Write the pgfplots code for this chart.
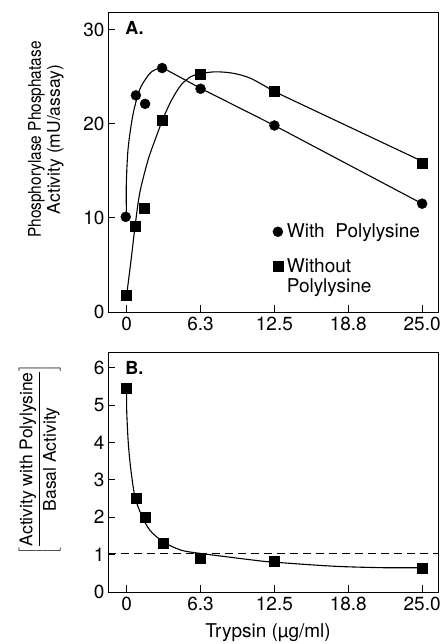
\documentclass[border=0pt]{standalone}
\usepackage{graphicx}
\usepackage{pgfplots}
\pgfplotsset{compat=1.18}
\usepackage{fontspec}
\setmainfont{TeX Gyre Heros}
\begin{document}
\begin{tikzpicture}
\useasboundingbox (-108bp,-332bp) rectangle (335bp,312bp);
\pgfplotsset{
  every axis/.append style={
    scale only axis, width=330bp,
    xmin=-1.58, xmax=26.34,
    xtick={0,6.25,12.5,18.75,25}, xticklabels={0,6.3,12.5,18.8,25.0},
    xtick pos=bottom, ytick pos=left,
    tick align=inside, major tick length=7bp,
    axis line style={line width=0.9bp},
    every tick/.style={line width=0.9bp, black},
    tick label style={font=\fontsize{19bp}{22bp}\selectfont},
    /pgf/number format/assume math mode=true,
    xticklabel style={yshift=-2bp},
  },
  mycurve/.style={black, line width=1.1bp, no marks},
}
% ---------------- Panel A ----------------
\begin{axis}[name=A, at={(0,0)}, anchor=south west, height=300bp,
  ymin=0, ymax=31.85, ytick={0,10,20,30},
  ylabel={\scalebox{0.88}[1]{Phosphorylase Phosphatase}\\Activity (mU/assay)},
  ylabel style={at={(axis description cs:-0.188,0.575)}, anchor=center, align=center,
    font=\fontsize{17.5bp}{19bp}\selectfont},
  legend style={at={(axis description cs:0.496,0.297)}, anchor=north west, draw=none, fill=none,
    font=\fontsize{19bp}{20bp}\selectfont, row sep=17bp, inner sep=0pt,
    nodes={inner sep=1bp}},
  legend cell align=left,
  legend image code/.code={\draw[mark repeat=2,mark phase=2,#1] plot coordinates {(0bp,0bp)(6bp,0bp)(12bp,0bp)};
    \path[draw=none,fill=none] (0bp,0bp) (14bp,0bp);},
]
% fitted curve, with polylysine
\addplot[mycurve, smooth, tension=0.5, forget plot] coordinates {
  (-0.02,10) (-0.03,13.6) (0.11,17.2) (0.4,20.0) (0.68,21.8) (1.1,23.6) (1.53,24.6) (2.1,25.5) (2.94,26.0)};
\addplot[mycurve, forget plot] coordinates {(2.94,26.0) (6.25,23.75) (12.5,19.8) (25,11.5)};
% fitted curve, without polylysine
\addplot[mycurve, smooth, tension=0.5, forget plot] coordinates {
  (0,1.8) (0.4,5.8) (0.7,9.0) (1.1,12.6) (1.8,16.1) (2.5,18.6) (3.1,20.6) (3.8,22.5) (4.6,24.1)
  (5.45,25.0) (6.25,25.3) (7.5,25.5) (9,25.35) (10.5,24.8) (12.5,23.4)};
\addplot[mycurve, forget plot] coordinates {(12.5,23.4) (25,16.0)};
% data
\addplot[only marks, mark=*, mark size=5bp, black] coordinates {
  (-0.08,10.1) (0.78,23.0) (1.56,22.1) (3.0,25.9) (6.25,23.7) (12.5,19.8) (25,11.5)};
\addlegendentry{With\ \ Polylysine}
\addplot[only marks, mark=square*, mark size=5bp, black] coordinates {
  (0,1.8) (0.7,9.1) (1.5,11.0) (3.0,20.4) (6.25,25.2) (12.5,23.4) (25,15.8)};
\addlegendentry{\begin{tabular}[t]{@{}l@{}}Without\\Polylysine\end{tabular}}
\node[anchor=west, font=\bfseries\fontsize{18bp}{20bp}\selectfont] at (axis description cs:0.042,0.947) {A.};
\end{axis}
% ---------------- Panel B ----------------
\begin{axis}[name=B, at={(0,-40bp)}, anchor=north west, height=240bp,
  ymin=0, ymax=6.42, ytick={0,1,2,3,4,5,6},
  xlabel={Trypsin (µg/ml)},
  xlabel style={at={(axis description cs:0.485,-0.171)}, anchor=center,
    font=\fontsize{19bp}{22bp}\selectfont},
  ylabel={$\left[\displaystyle\frac{\mbox{Activity with Polylysine}}{\mbox{Basal Activity}}\right]$},
  ylabel style={at={(axis description cs:-0.207,0.553)}, anchor=center,
    font=\fontsize{17.5bp}{19bp}\selectfont},
]
\addplot[black, line width=0.9bp, dash pattern=on 8bp off 5bp] coordinates {(-1.58,1.02) (26.34,1.02)};
\addplot[mycurve, smooth, tension=0.5] coordinates {
  (0,5.46) (0,4.87) (0.14,3.97) (0.36,3.26) (0.7,2.55) (1.26,2.05) (1.97,1.65) (3.1,1.34)
  (4.6,1.12) (6.3,1.03) (10.8,0.85) (12.4,0.80) (17.5,0.69) (21.7,0.65) (25,0.65)};
\addplot[only marks, mark=square*, mark size=5bp, black] coordinates {
  (0,5.46) (0.78,2.50) (1.56,2.01) (3.125,1.31) (6.25,0.91) (12.5,0.82) (25,0.65)};
\node[anchor=west, font=\bfseries\fontsize{18bp}{20bp}\selectfont] at (axis description cs:0.042,0.935) {B.};
\end{axis}
\end{tikzpicture}
\end{document}
